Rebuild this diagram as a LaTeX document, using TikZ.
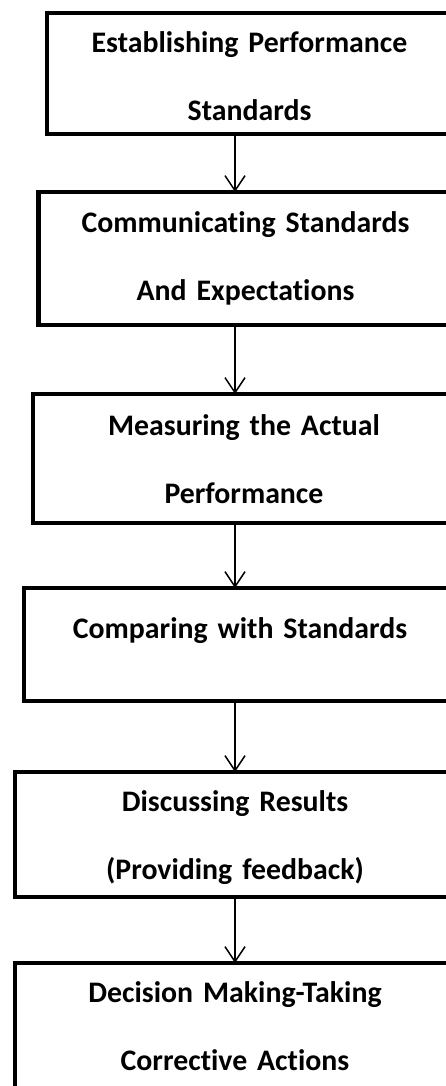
\documentclass[tikz,border=0pt]{standalone}
\usepackage{fontspec}
\setmainfont{Carlito}[Ligatures=NoCommon, WordSpace=0.7]
\usetikzlibrary{positioning}
\usetikzlibrary{arrows.meta}

\tikzset{
  stepbox/.style={draw, line width=4.5pt, outer sep=0pt, inner sep=0pt, anchor=north west},
  steptext/.style={font=\bfseries\fontsize{29.8}{68}\selectfont, text width=430pt, align=center, inner sep=0pt, anchor=base},
  flow/.style={line width=1.5pt, -{Straight Barb[length=15pt,width=20pt]}}
}

\begin{document}
\begin{tikzpicture}[x=1pt, y=1pt]
\useasboundingbox (0,0) rectangle (446,-1086);
\coordinate (spine) at (235,0);

\node[stepbox, minimum width=405pt, minimum height=121pt] (b1) at (47,-13) {};
\node[stepbox, minimum width=414pt, minimum height=133pt] (b2) at (38.5,-192) {};
\node[stepbox, minimum width=422pt, minimum height=129pt] (b3) at (33,-394) {};
\node[stepbox, minimum width=432pt, minimum height=113pt] (b4) at (24,-588) {};
\node[stepbox, minimum width=440pt, minimum height=125pt] (b5) at (15,-772) {};
\node[stepbox, minimum width=440pt, minimum height=150pt] (b6) at (15,-963) {};

\node[steptext, below=40pt of b1.north, anchor=base] (t1) {Establishing Performance\\Standards};
\node[steptext, below=40pt of b2.north, anchor=base] (t2) {Communicating Standards\\And Expectations};
\node[steptext, below=41pt of b3.north, anchor=base] (t3) {Measuring the Actual\\Performance};
\node[steptext, below=50pt of b4.north, anchor=base] (t4) {Comparing with Standards};
\node[steptext, below=39pt of b5.north, anchor=base] (t5) {Discussing Results\\(Providing feedback)};
\node[steptext, below=39pt of b6.north, anchor=base] (t6) {Decision Making-Taking\\Corrective Actions};

\draw[flow] (b1.south -| spine) -- (b2.north -| spine);
\draw[flow] (b2.south -| spine) -- (b3.north -| spine);
\draw[flow] (b3.south -| spine) -- (b4.north -| spine);
\draw[flow] (b4.south -| spine) -- (b5.north -| spine);
\draw[flow] (b5.south -| spine) -- (b6.north -| spine);
\end{tikzpicture}
\end{document}
